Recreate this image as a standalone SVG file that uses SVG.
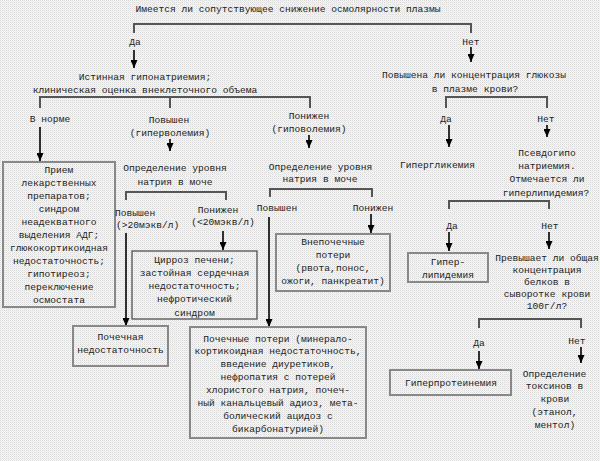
<svg xmlns="http://www.w3.org/2000/svg" width="600" height="461" viewBox="0 0 600 461">
<defs>
<pattern id="bg" width="2" height="2" patternUnits="userSpaceOnUse">
<rect width="2" height="2" fill="#f7f7f7"/>
<rect width="1" height="1" fill="#d9d9d9"/>
<rect x="1" y="1" width="1" height="1" fill="#e9e9e9"/>
</pattern>
<marker id="ah" viewBox="0 0 8 7" refX="8" refY="3.5" markerWidth="8" markerHeight="7" markerUnits="userSpaceOnUse" orient="auto">
<path d="M0,0 L8,3.5 L0,7 z" fill="#000"/>
</marker>
<style>
text{font-family:"Liberation Mono","Courier New",monospace;font-size:9.6px;fill:#222;text-anchor:middle}
.st{text-anchor:start}
.br{fill:none;stroke:#555;stroke-width:2}
.ar{stroke:#000;stroke-width:1.6;fill:none;marker-end:url(#ah)}
.bx{fill:none;stroke:#888;stroke-width:2}
.bxd{fill:none;stroke:#444;stroke-width:1.2}
</style>
</defs>
<rect width="600" height="461" fill="url(#bg)"/>

<g id="connectors">
<path class="br" d="M134,33 V24 H471 V33"/>
<line class="ar" x1="134" y1="50" x2="134" y2="68"/>
<line class="ar" x1="471" y1="47" x2="471" y2="62"/>
<path class="br" d="M40,108 V97 H310 V108 M170,97 V108"/>
<line class="ar" x1="40" y1="127" x2="40" y2="161"/>
<line class="ar" x1="170" y1="139" x2="170" y2="151"/>
<line class="ar" x1="309" y1="135" x2="309" y2="148"/>
<path class="br" d="M126,200 V192 H226 V200"/>
<line class="ar" x1="126" y1="233" x2="126" y2="326"/>
<line class="ar" x1="223" y1="231" x2="223" y2="250"/>
<path class="br" d="M270,197 V189 H372 V197"/>
<line class="ar" x1="269" y1="217" x2="269" y2="327"/>
<line class="ar" x1="371" y1="214" x2="371" y2="233"/>
<path class="br" d="M446,108 V97 H547 V108"/>
<line class="ar" x1="449" y1="125" x2="449" y2="147"/>
<line class="ar" x1="547" y1="125" x2="547" y2="137"/>
<path class="br" d="M449,209 V201 H549 V209"/>
<line class="ar" x1="449" y1="232" x2="449" y2="251"/>
<line class="ar" x1="549" y1="232" x2="549" y2="249"/>
<path class="br" d="M479,328 V319 H581 V328"/>
<line class="ar" x1="479" y1="351" x2="479" y2="369"/>
<line class="ar" x1="581" y1="347" x2="581" y2="363"/>
</g>

<g id="q-osm"><text x="288" y="12">Имеется ли сопутствующее снижение осмолярности плазмы</text></g>
<g id="l-da1"><text x="135" y="45">Да</text></g>
<g id="l-net1"><text x="471" y="44.5">Нет</text></g>
<g id="true-hypo">
<text x="145" y="79.5">Истинная гипонатриемия;</text>
<text x="145" y="92.5">клиническая оценка внеклеточного объема</text>
</g>
<g id="l-norm"><text x="50" y="121.5">В норме</text></g>
<g id="l-hyper"><text x="169" y="122.5">Повышен</text><text x="170" y="135.5">(гиперволемия)</text></g>
<g id="l-hypo"><text x="309" y="118.5">Понижен</text><text x="309" y="131.5">(гиповолемия)</text></g>

<g id="box-drugs">
<rect class="bx" x="3" y="162" width="112" height="145"/>
<text x="59" y="173.3">Прием</text>
<text x="59" y="186.2">лекарственных</text>
<text x="59" y="199.2">препаратов;</text>
<text x="59" y="212.1">синдром</text>
<text x="59" y="225">неадекватного</text>
<text x="59" y="238">выделения АДГ;</text>
<text x="59" y="250.9">глюкокортикоидная</text>
<text x="59" y="263.8">недостаточность;</text>
<text x="59" y="276.7">гипотиреоз;</text>
<text x="59" y="289.7">переключение</text>
<text x="59" y="302.6">осмостата</text>
</g>

<g id="urine-na-1"><text x="175" y="170.5">Определение уровня</text><text x="175" y="184.5">натрия в моче</text></g>
<g id="l-up20"><text class="st" x="115" y="215.5">Повышен</text><text class="st" x="116" y="227.5">(&gt;20мэкв/л)</text></g>
<g id="l-down20"><text x="218" y="212.5">Понижен</text><text x="223" y="224.5">(&lt;20мэкв/л)</text></g>

<g id="box-cirrhosis">
<rect class="bxd" x="132" y="251" width="125" height="68"/>
<text x="194.5" y="262.5">Цирроз печени;</text>
<text x="194.5" y="275.8">застойная сердечная</text>
<text x="194.5" y="289.1">недостаточность;</text>
<text x="194.5" y="302.4">нефротический</text>
<text x="194.5" y="315.7">синдром</text>
</g>

<g id="urine-na-2"><text x="320.5" y="169.5">Определение уровня</text><text x="320" y="181.5">натрия в моче</text></g>
<g id="l-up2"><text x="277" y="210.5">Повышен</text></g>
<g id="l-down2"><text x="373" y="210.5">Понижен</text></g>

<g id="box-extrarenal">
<rect class="bx" x="276" y="234" width="114" height="57"/>
<text x="333" y="244.8">Внепочечные</text>
<text x="333" y="258">потери</text>
<text x="333" y="271.2">(рвота,понос,</text>
<text x="333" y="284.4">ожоги, панкреатит)</text>
</g>

<g id="box-renal-failure">
<rect class="bx" x="73" y="326" width="95" height="40"/>
<text x="120.5" y="339.5">Почечная</text>
<text x="120.5" y="352.5">недостаточность</text>
</g>

<g id="box-renal-loss">
<rect class="bx" x="190" y="327" width="176" height="111"/>
<text x="278" y="341.5">Почечные потери (минерало-</text>
<text x="278" y="354.4">кортикоидная недостаточность,</text>
<text x="278" y="367.4">введение диуретиков,</text>
<text x="278" y="380.3">нефропатия с потерей</text>
<text x="278" y="393.2">хлористого натрия, почеч-</text>
<text x="278" y="406.2">ный канальцевый адиоз, мета-</text>
<text x="278" y="419.1">болический ацидоз с</text>
<text x="278" y="432">бикарбонатурией)</text>
</g>

<g id="q-glucose"><text x="474" y="77.5">Повышена ли концентрация глюкозы</text><text x="475" y="91.5">в плазме крови?</text></g>
<g id="l-da2"><text x="446" y="121.5">Да</text></g>
<g id="l-net2"><text x="546" y="121.5">Нет</text></g>
<g id="hyperglycemia"><text x="437.5" y="167.5">Гипергликемия</text></g>
<g id="pseudo">
<text x="547" y="155.8">Псевдогипо</text>
<text x="547" y="169.1">натриемия.</text>
<text x="547" y="182.4">Отмечается ли</text>
<text x="546" y="195.7">гиперлипидемия?</text>
</g>
<g id="l-da3"><text x="452" y="228.5">Да</text></g>
<g id="l-net3"><text x="550" y="228.5">Нет</text></g>
<g id="box-hyperlip">
<rect class="bx" x="408" y="253" width="80" height="29"/>
<text x="448" y="264.5">Гипер-</text>
<text x="448" y="278">липидемия</text>
</g>
<g id="q-protein">
<text x="547" y="260.8">Превышает ли общая</text>
<text x="547" y="272.9">концентрация</text>
<text x="547" y="285">белков в</text>
<text x="547" y="297.1">сыворотке крови</text>
<text x="547" y="309.2">100г/л?</text>
</g>
<g id="l-da4"><text x="479" y="345.5">Да</text></g>
<g id="l-net4"><text x="577" y="343.5">Нет</text></g>
<g id="box-hyperprot">
<rect class="bx" x="390" y="370" width="121" height="25"/>
<text x="451" y="385.5">Гиперпротеинемия</text>
</g>
<g id="toxins">
<text x="554.5" y="376.5">Определение</text>
<text x="554.5" y="389.4">токсинов в</text>
<text x="555" y="402.3">крови</text>
<text x="554.5" y="415.2">(этанол,</text>
<text x="555" y="428.1">ментол)</text>
</g>
</svg>
